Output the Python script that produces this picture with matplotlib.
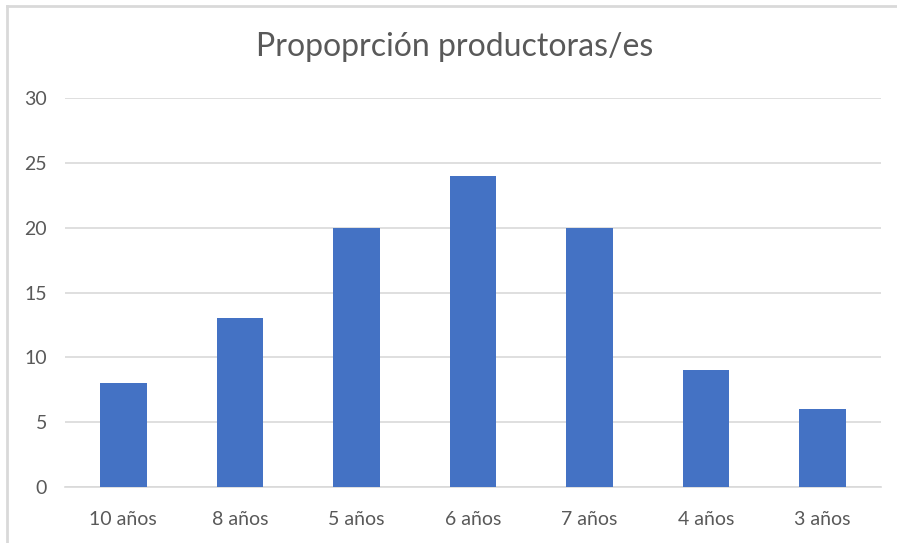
import matplotlib
matplotlib.use("Agg")
import matplotlib.pyplot as plt
from matplotlib.lines import Line2D

categories = ['10 años', '8 años', '5 años', '6 años', '7 años', '4 años', '3 años']
values = [8, 13, 20, 24, 20, 9, 6]
y_ticks = [0, 5, 10, 15, 20, 25, 30]

BAR_COLOR = '#4472C4'
GRID_COLOR = '#d9d9d9'
TEXT_COLOR = '#595959'

plt.rcParams['font.family'] = ['Lato', 'DejaVu Sans']

fig = plt.figure(figsize=(8.97, 5.43), dpi=100)
ax = fig.add_axes([0.0725, 0.1031, 0.9095, 0.7164])

x = list(range(len(categories)))
ax.bar(x, values, width=0.4, color=BAR_COLOR, zorder=3)

ax.set_xlim(-0.5, len(categories) - 0.5)
ax.set_ylim(0, 30)
ax.set_yticks(y_ticks)
ax.set_xticks(x)
ax.set_xticklabels(categories)

ax.grid(axis='y', color=GRID_COLOR, linewidth=1.2, zorder=0)
for side in ['top', 'right', 'left']:
    ax.spines[side].set_visible(False)
ax.spines['bottom'].set_color(GRID_COLOR)
ax.spines['bottom'].set_linewidth(1.2)

ax.tick_params(axis='both', length=0, colors=TEXT_COLOR, labelsize=14)
ax.tick_params(axis='y', pad=13)
ax.tick_params(axis='x', pad=17)

fig.text(0.507, 0.913, 'Propoprción productoras/es', ha='center', va='center',
         fontsize=23, color=TEXT_COLOR)

# chart frame (only top and left edges visible in the crop)
fig.add_artist(Line2D([0.0078, 0.0078], [0, 0.989], transform=fig.transFigure,
                      color='#d9d9d9', linewidth=2))
fig.add_artist(Line2D([0.0078, 1.0], [0.989, 0.989], transform=fig.transFigure,
                      color='#d9d9d9', linewidth=2))

fig.savefig('out.png', dpi=100)
